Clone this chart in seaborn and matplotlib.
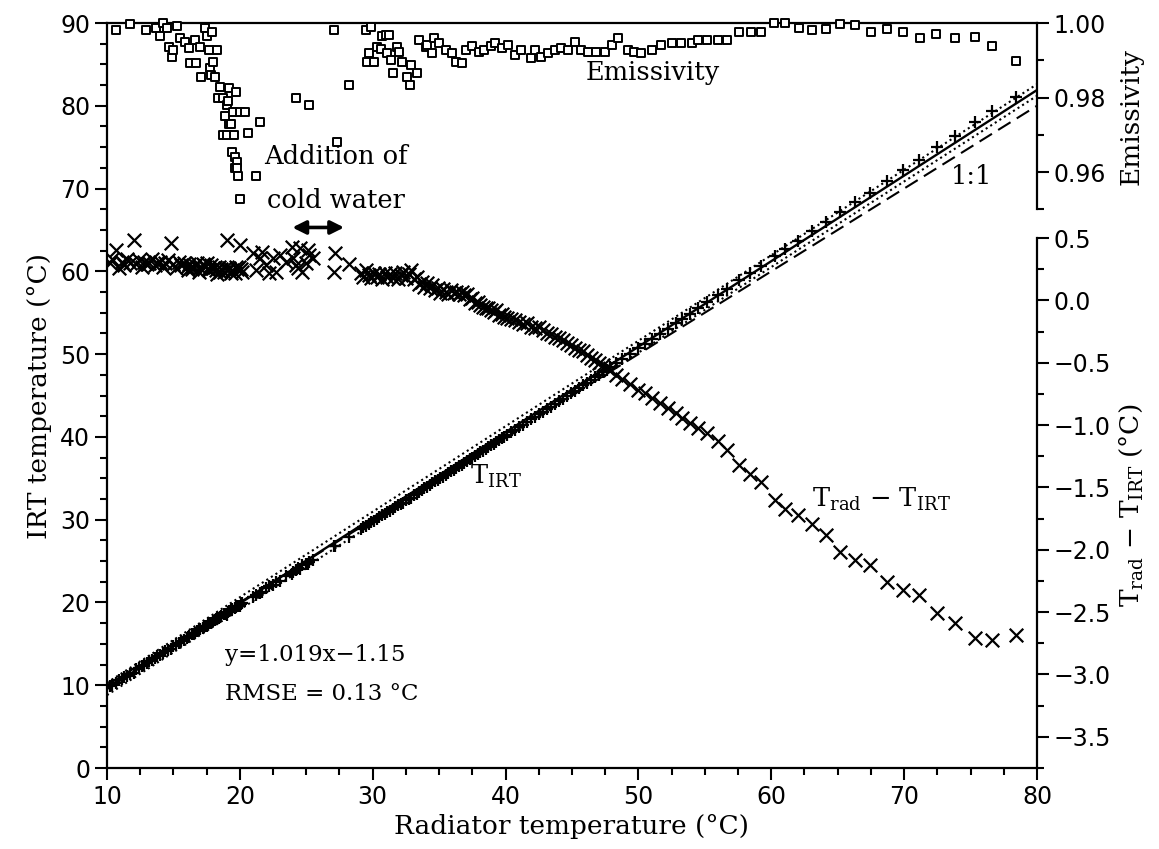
import matplotlib
matplotlib.use("Agg")
import matplotlib.pyplot as plt
import seaborn as sns
from matplotlib.ticker import MultipleLocator, FixedLocator

# ---------------- data ----------------
t_rad = [10.2, 10.4, 10.7, 10.9, 11.1, 11.3, 11.5, 11.7, 12.0, 12.2, 12.4, 12.6, 12.8, 13.0,
         13.2, 13.4, 13.6, 13.8, 14.0, 14.2, 14.4, 14.6, 14.85, 15.0, 15.2, 15.4, 15.6, 15.8,
         16.0, 16.1, 16.2, 16.4, 16.5, 16.6, 16.8, 16.9, 17.0, 17.2, 17.3, 17.4, 17.5, 17.6,
         17.7, 17.8, 18.0, 18.1, 18.2, 18.3, 18.4, 18.5, 18.6, 18.8, 18.9, 19.0, 19.1, 19.2,
         19.3, 19.4, 19.6, 19.7, 19.8, 19.9, 20.0, 20.1, 20.2,
         21.0, 21.2, 21.5, 21.7, 22.0, 22.2, 22.5, 22.7, 23.0, 23.5, 23.9, 24.0, 24.2, 24.4,
         24.5, 24.7, 25.0, 25.1, 25.2, 25.5,
         27.1, 27.2, 28.2,
         29.1, 29.3, 29.5, 29.7, 29.9, 30.1, 30.3, 30.5, 30.7, 30.9, 31.1, 31.3, 31.5, 31.7,
         31.9, 32.1, 32.3, 32.5, 32.7, 32.9, 33.1, 33.3, 33.5, 33.7, 33.9, 34.1, 34.3, 34.5,
         34.7, 34.9, 35.1, 35.3, 35.5, 35.7, 35.9, 36.1, 36.3, 36.5, 36.7, 36.9, 37.1, 37.3,
         37.5, 37.7, 37.9, 38.1, 38.3, 38.5, 38.7, 38.9, 39.1, 39.3, 39.5, 39.7, 39.9, 40.1,
         40.4, 40.7, 41.0, 41.3, 41.6, 41.9, 42.2, 42.5, 42.8, 43.1, 43.4, 43.7, 44.0, 44.3,
         44.6, 44.9, 45.2, 45.5, 45.8, 46.1, 46.4, 46.7, 47.0, 47.3, 47.6, 47.9, 48.3, 48.8,
         49.4, 50.0, 50.5, 51.0, 51.6, 52.2, 52.8, 53.3, 53.9, 54.5, 55.2,
         56.0, 56.7, 57.6, 58.4, 59.2, 60.3, 61.0, 62.0, 63.1, 64.1, 65.2, 66.3, 67.4, 68.7,
         69.9, 71.1, 72.5, 73.8, 75.3, 76.6, 78.4]

diff = [0.30, 0.33, 0.40, 0.26, 0.31, 0.28, 0.33, 0.30, 0.48, 0.29, 0.32, 0.27, 0.31, 0.29,
        0.30, 0.33, 0.28, 0.30, 0.31, 0.27, 0.30, 0.32, 0.46, 0.29, 0.26, 0.31, 0.28, 0.30,
        0.27, 0.24, 0.29, 0.25, 0.27, 0.28, 0.30, 0.23, 0.26, 0.29, 0.28, 0.27, 0.30, 0.25,
        0.24, 0.28, 0.26, 0.27, 0.24, 0.21, 0.27, 0.23, 0.25, 0.23, 0.26, 0.48, 0.24, 0.26,
        0.22, 0.24, 0.22, 0.27, 0.25, 0.27, 0.44, 0.25, 0.23,
        0.38, 0.24, 0.34, 0.39, 0.28, 0.22, 0.34, 0.23, 0.36, 0.31, 0.43, 0.34, 0.28, 0.26,
        0.42, 0.23, 0.30, 0.40, 0.36, 0.34,
        0.23, 0.38, 0.29,
        0.22, 0.19, 0.24, 0.20, 0.18, 0.22, 0.19, 0.21, 0.17, 0.22, 0.19, 0.21, 0.18, 0.22,
        0.17, 0.20, 0.23, 0.18, 0.21, 0.24, 0.17, 0.19, 0.13, 0.15, 0.11, 0.14, 0.10, 0.12,
        0.08, 0.10, 0.06, 0.09, 0.07, 0.05, 0.08, 0.06, 0.07, 0.05, 0.07, 0.04, 0.05, 0.01,
        0.02, -0.02, -0.01, -0.04, -0.05, -0.06, -0.06, -0.08, -0.09, -0.08, -0.12, -0.11, -0.13, -0.14,
        -0.15, -0.16, -0.17, -0.19, -0.18, -0.21, -0.22, -0.21, -0.24, -0.26, -0.27, -0.29, -0.30, -0.32,
        -0.34, -0.36, -0.38, -0.40, -0.41, -0.44, -0.46, -0.48, -0.50, -0.52, -0.54, -0.56, -0.60, -0.63,
        -0.67, -0.72, -0.74, -0.78, -0.82, -0.86, -0.90, -0.94, -0.98, -1.02, -1.06,
        -1.13, -1.20, -1.32, -1.39, -1.46, -1.60, -1.67, -1.72, -1.79, -1.88, -2.02, -2.08, -2.12, -2.26,
        -2.32, -2.36, -2.51, -2.59, -2.71, -2.72, -2.68]

t_irt = [9.90, 10.07, 10.30, 10.64, 10.79, 11.02, 11.17, 11.40, 11.52, 11.91, 12.08, 12.33, 12.49, 12.71,
         12.90, 13.07, 13.32, 13.50, 13.69, 13.93, 14.10, 14.28, 14.39, 14.71, 14.94, 15.09, 15.32, 15.50,
         15.73, 15.86, 15.91, 16.15, 16.23, 16.32, 16.50, 16.67, 16.74, 16.91, 17.02, 17.13, 17.20, 17.35,
         17.46, 17.52, 17.74, 17.83, 17.96, 18.09, 18.13, 18.27, 18.35, 18.57, 18.64, 18.52, 18.86, 18.94,
         19.08, 19.16, 19.38, 19.43, 19.55, 19.63, 19.56, 19.85, 19.97,
         20.62, 20.96, 21.16, 21.31, 21.72, 21.98, 22.16, 22.47, 22.64, 23.19, 23.47, 23.66, 23.92, 24.14,
         24.08, 24.47, 24.70, 24.70, 24.84, 25.16,
         26.87, 26.82, 27.91,
         28.88, 29.11, 29.26, 29.50, 29.72, 29.88, 30.11, 30.29, 30.53, 30.68, 30.91, 31.09, 31.32, 31.48,
         31.73, 31.90, 32.07, 32.32, 32.49, 32.66, 32.93, 33.11, 33.37, 33.55, 33.79, 33.96, 34.20, 34.38,
         34.62, 34.80, 35.04, 35.21, 35.43, 35.65, 35.82, 36.04, 36.23, 36.45, 36.63, 36.86, 37.05, 37.29,
         37.48, 37.72, 37.91, 38.14, 38.35, 38.56, 38.76, 38.98, 39.19, 39.38, 39.62, 39.81, 40.03, 40.24,
         40.55, 40.86, 41.17, 41.49, 41.78, 42.11, 42.42, 42.71, 43.04, 43.36, 43.67, 43.99, 44.30, 44.62,
         44.94, 45.26, 45.58, 45.90, 46.21, 46.54, 46.86, 47.18, 47.50, 47.82, 48.14, 48.46, 48.90, 49.43,
         50.07, 50.72, 51.24, 51.78, 52.42, 53.06, 53.70, 54.24, 54.88, 55.52, 56.26,
         57.13, 57.90, 58.92, 59.79, 60.66, 61.90, 62.67, 63.72, 64.89, 65.98, 67.22, 68.38, 69.52, 70.96,
         72.22, 73.46, 75.01, 76.39, 78.01, 79.32, 81.08]

emis_x = [10.7, 11.7, 12.9, 13.7, 14.0, 14.2, 14.5, 14.7, 14.9, 15.0, 15.3, 15.5, 15.9, 16.2,
          16.25, 16.6, 16.7, 17.0, 17.05, 17.4, 17.5, 17.7, 17.75, 17.8, 17.9, 17.95, 18.1, 18.3,
          18.35, 18.5, 18.7, 18.75, 18.9, 19.0, 19.05, 19.1, 19.15, 19.2, 19.3, 19.4, 19.5, 19.55,
          19.6, 19.65, 19.7, 19.75, 19.8, 19.85, 20.0, 20.05, 20.4, 20.6, 21.2, 21.5, 24.2, 25.2,
          27.1, 27.3, 28.2, 29.5, 29.55, 29.7, 29.9, 30.1, 30.3, 30.6, 30.7, 31.0, 31.05, 31.2,
          31.4, 31.5, 31.8, 32.0, 32.2, 32.6, 32.8, 32.9, 33.3, 33.5, 34.0, 34.1, 34.5, 34.6,
          35.0, 35.5, 36.0, 36.3, 36.7, 37.0, 37.5, 38.0, 38.4, 38.9, 39.2, 39.7, 40.2, 40.7,
          41.2, 41.9, 42.2, 42.7, 43.2, 43.7, 44.2, 44.7, 45.2, 45.7, 46.2, 46.8, 47.5, 48.0,
          48.5, 49.2, 49.7, 50.2, 51.0, 51.7, 52.5, 53.2, 54.0, 54.5, 55.2, 56.0, 56.7, 57.6,
          58.45, 59.2, 60.2, 61.0, 62.1, 63.1, 64.1, 65.2, 66.3, 67.5, 68.7, 69.9, 71.2, 72.4,
          73.8, 75.3, 76.6, 78.4]

emissivity = [0.998, 0.9997, 0.998, 0.9986, 0.9965, 0.9999, 0.9986, 0.9936, 0.991, 0.9928, 0.9991, 0.996, 0.995, 0.9933,
              0.9893, 0.9955, 0.9893, 0.9936, 0.9856, 0.9987, 0.9965, 0.9928, 0.988, 0.986, 0.9976, 0.9896, 0.9856, 0.9928,
              0.980, 0.9829, 0.980, 0.970, 0.975, 0.978, 0.970, 0.979, 0.973, 0.9826, 0.973, 0.9655, 0.976, 0.970,
              0.961, 0.964, 0.9816, 0.9626, 0.961, 0.959, 0.976, 0.9527, 0.976, 0.9706, 0.9588, 0.9735, 0.980, 0.978,
              0.998, 0.968, 0.9834, 0.998, 0.9896, 0.992, 0.999, 0.9896, 0.9936, 0.993, 0.9965, 0.9968, 0.992, 0.9968,
              0.990, 0.9866, 0.9936, 0.9922, 0.9896, 0.9856, 0.9834, 0.9888, 0.9866, 0.9955, 0.9936, 0.994, 0.992, 0.996,
              0.9947, 0.9928, 0.992, 0.9896, 0.9893, 0.9928, 0.9937, 0.9923, 0.9928, 0.9937, 0.9946, 0.9932, 0.9941, 0.9914,
              0.9928, 0.9906, 0.9928, 0.9910, 0.9919, 0.9928, 0.9932, 0.9928, 0.9950, 0.9928, 0.9923, 0.9923, 0.9923, 0.9941,
              0.9959, 0.9928, 0.9923, 0.9919, 0.9928, 0.9941, 0.9946, 0.9946, 0.9946, 0.9955, 0.9955, 0.9955, 0.9955, 0.9977,
              0.9977, 0.9977, 0.9999, 0.9999, 0.9986, 0.9981, 0.9984, 0.9997, 0.9995, 0.9976, 0.9984, 0.9976, 0.996, 0.997,
              0.996, 0.9963, 0.9938, 0.9898]

line_x = [10, 80]
fit_y = [9.55, 81.9]
upper_y = [10.3, 82.6]
lower_y = [8.8, 81.2]
one_to_one_y = [10, 80]

x_ticks = [10, 20, 30, 40, 50, 60, 70, 80]
y_ticks = [0, 10, 20, 30, 40, 50, 60, 70, 80, 90]
emis_ticks = [0.96, 0.98, 1.00]
emis_minor = [0.95, 0.97, 0.99]
diff_ticks = [0.5, 0.0, -0.5, -1.0, -1.5, -2.0, -2.5, -3.0, -3.5]
diff_minor = [0.25, -0.25, -0.75, -1.25, -1.75, -2.25, -2.75, -3.25, -3.75]

# ---------------- style ----------------
sns.set_style("ticks")
plt.rcParams["font.family"] = ["DejaVu Serif"]
plt.rcParams["mathtext.fontset"] = "dejavuserif"
plt.rcParams["axes.linewidth"] = 1.6
for key in ("text.color", "axes.labelcolor", "xtick.color", "ytick.color", "axes.edgecolor"):
    plt.rcParams[key] = "black"

fig = plt.figure(figsize=(11.59, 8.49), dpi=100)
ax = fig.add_axes([0.0923, 0.0954, 0.8024, 0.8775])
ax_e = ax.twinx()
ax_d = ax.twinx()

# lines
sns.lineplot(x=line_x, y=one_to_one_y, ax=ax, color="black", lw=1.5,
             linestyle=(0, (7, 3.5)), zorder=2)
sns.lineplot(x=line_x, y=upper_y, ax=ax, color="black", lw=1.5,
             linestyle=(0, (1, 1.6)), zorder=2)
sns.lineplot(x=line_x, y=lower_y, ax=ax, color="black", lw=1.5,
             linestyle=(0, (1, 1.6)), zorder=2)
sns.lineplot(x=line_x, y=fit_y, ax=ax, color="black", lw=1.7, zorder=2)

# points
sns.scatterplot(x=t_rad, y=t_irt, ax=ax, marker="+", s=75, color="black",
                linewidth=1.6, zorder=3)
sns.scatterplot(x=t_rad, y=diff, ax=ax_d, marker="x", s=95, color="black",
                linewidth=1.6, zorder=3)
sns.scatterplot(x=emis_x, y=emissivity, ax=ax_e, marker="s", s=27,
                facecolor="white", edgecolor="black", linewidth=1.4,
                clip_on=False, zorder=3)

# ---------------- axes ----------------
ax.set_xlim(10, 80)
ax.set_ylim(0, 90)
ax.xaxis.set_major_locator(FixedLocator(x_ticks))
ax.xaxis.set_minor_locator(MultipleLocator(2.5))
ax.yaxis.set_major_locator(FixedLocator(y_ticks))
ax.yaxis.set_minor_locator(MultipleLocator(2.5))
ax.spines["right"].set_visible(False)
ax.tick_params(which="major", length=8.5, width=1.5, direction="out",
               labelsize=17, labelfontfamily="DejaVu Sans")
ax.tick_params(which="minor", length=5, width=1.5, direction="out")
ax.set_xlabel("Radiator temperature (°C)", fontsize=19, labelpad=4)
ax.set_ylabel("IRT temperature (°C)", fontsize=19, labelpad=6)

for a in (ax_e, ax_d):
    for s in ("left", "top", "bottom"):
        a.spines[s].set_visible(False)
    a.spines["right"].set_linewidth(1.6)
    a.tick_params(axis="y", which="major", length=8.5, width=1.5, direction="out",
                  labelsize=17, labelfontfamily="DejaVu Sans")
    a.tick_params(axis="y", which="minor", length=5, width=1.5, direction="out")

ax_e.set_ylim(0.80, 1.00)
ax_e.spines["right"].set_bounds(0.95, 1.00)
ax_e.yaxis.set_major_locator(FixedLocator(emis_ticks))
ax_e.yaxis.set_minor_locator(FixedLocator(emis_minor))
ax_e.yaxis.set_major_formatter(matplotlib.ticker.FormatStrFormatter("%.2f"))
ax_e.set_ylabel("Emissivity", fontsize=19)
ax_e.yaxis.set_label_coords(1.088, 0.874)

ax_d.set_ylim(-3.75, 2.224)
ax_d.spines["right"].set_bounds(-3.75, 0.5)
ax_d.yaxis.set_major_locator(FixedLocator(diff_ticks))
ax_d.yaxis.set_minor_locator(FixedLocator(diff_minor))
ax_d.set_ylabel(r"T$_{\mathrm{rad}}$ $-$ T$_{\mathrm{IRT}}$ (°C)", fontsize=19)
ax_d.yaxis.set_label_coords(1.086, 0.353)

# ---------------- annotations ----------------
ax.text(46.0, 84.0, "Emissivity", fontsize=18.5, ha="left", va="center")
ax.text(27.2, 73.9, "Addition of", fontsize=18.5, ha="center", va="center")
ax.text(27.2, 68.6, "cold water", fontsize=18.5, ha="center", va="center")
ax.annotate("", xy=(23.95, 65.3), xytext=(27.85, 65.3),
            arrowprops=dict(arrowstyle="<|-|>", color="black", lw=2.6,
                            mutation_scale=20, shrinkA=0, shrinkB=0))
ax.text(75.1, 71.5, "1:1", fontsize=18.5, ha="center", va="center")
ax.text(37.3, 35.2, r"T$_{\mathrm{IRT}}$", fontsize=18.5, ha="left", va="center")
ax.text(63.1, 32.5, r"T$_{\mathrm{rad}}$ $-$ T$_{\mathrm{IRT}}$", fontsize=18.5,
        ha="left", va="center")
ax.text(18.85, 13.6, "y=1.019x\u22121.15", fontsize=16.5, ha="left", va="center")
ax.text(18.85, 9.0, "RMSE = 0.13 °C", fontsize=16.5, ha="left", va="center")

fig.savefig("out.png", dpi=100)
